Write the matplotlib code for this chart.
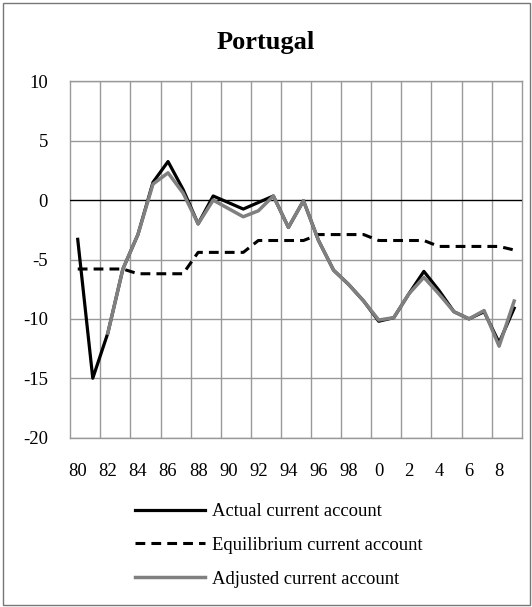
import numpy as np
import matplotlib.pyplot as plt
from matplotlib.patches import Rectangle

years = list(range(1980, 2010))
actual = [-3.3, -15.0, -11.2, -5.8, -2.9, 1.5, 3.25, 0.9, -2.0, 0.35,
          -0.2, -0.75, -0.2, 0.35, -2.3, -0.05, -3.4, -5.9, -7.1, -8.5,
          -10.2, -9.9, -7.9, -6.0, -7.6, -9.4, -10.0, -9.4, -12.0, -9.1]
equilibrium = [-5.8, -5.8, -5.8, -5.8, -6.2, -6.2, -6.2, -6.2, -4.4, -4.4,
               -4.4, -4.4, -3.4, -3.4, -3.4, -3.4, -2.9, -2.9, -2.9, -2.9,
               -3.4, -3.4, -3.4, -3.4, -3.9, -3.9, -3.9, -3.9, -3.9, -4.2]
adjusted = [np.nan, np.nan, -11.2, -5.8, -2.9, 1.35, 2.3, 0.6, -2.0, 0.0,
            -0.7, -1.4, -0.9, 0.35, -2.3, -0.05, -3.4, -5.9, -7.1, -8.5,
            -10.1, -9.9, -7.9, -6.5, -7.9, -9.4, -10.0, -9.3, -12.3, -8.5]
xlabels = [str(y % 100) for y in years[::2]]

plt.rcParams['font.family'] = ['Liberation Serif', 'DejaVu Serif']
plt.rcParams['axes.unicode_minus'] = False

fig = plt.figure(figsize=(5.32, 6.07), dpi=100)
ax = fig.add_axes([70.2/532, 1-437.6/607, 451.5/532, 356.2/607])

x = np.arange(len(years))
ax.plot(x, actual, color='black', lw=2.3, label='Actual current account', zorder=4)
ax.plot(x, equilibrium, color='black', lw=2.2, dashes=(3.2, 2.0), label='Equilibrium current account', zorder=4)
ax.plot(x, adjusted, color='#808080', lw=2.5, label='Adjusted current account', zorder=5)
ax.axhline(0, color='black', lw=0.9, zorder=3)

ax.set_xlim(-0.5, len(years)-0.5)
ax.set_ylim(-20, 10)
ax.set_yticks(range(-20, 11, 5))
ax.set_xticks(x[::2])
ax.set_xticklabels(xlabels)
ax.set_xticks(np.arange(1.5, len(years)-1, 2), minor=True)
ax.grid(True, which='minor', axis='x', color='#999999', lw=1)
ax.grid(True, which='major', axis='y', color='#999999', lw=1)
ax.tick_params(which='both', length=0, labelsize=13.4)
ax.tick_params(axis='x', pad=18)
ax.tick_params(axis='y', pad=16)
for s in ax.spines.values():
    s.set_color('#999999')
    s.set_linewidth(1)

fig.text(0.5, 1-43/607, 'Portugal', ha='center', va='center', fontsize=19, fontweight='bold')

fig.legend(loc='upper left', bbox_to_anchor=(135/532, 1-503/607), frameon=False,
           borderpad=0, borderaxespad=0, fontsize=13.4, handlelength=3.75,
           handletextpad=0.41, labelspacing=0.9)

fig.patches.append(Rectangle((3/532, 2/607), 527/532, 602/607, transform=fig.transFigure,
                             fill=False, edgecolor='#777777', lw=1))

fig.savefig('out.png', dpi=100)
